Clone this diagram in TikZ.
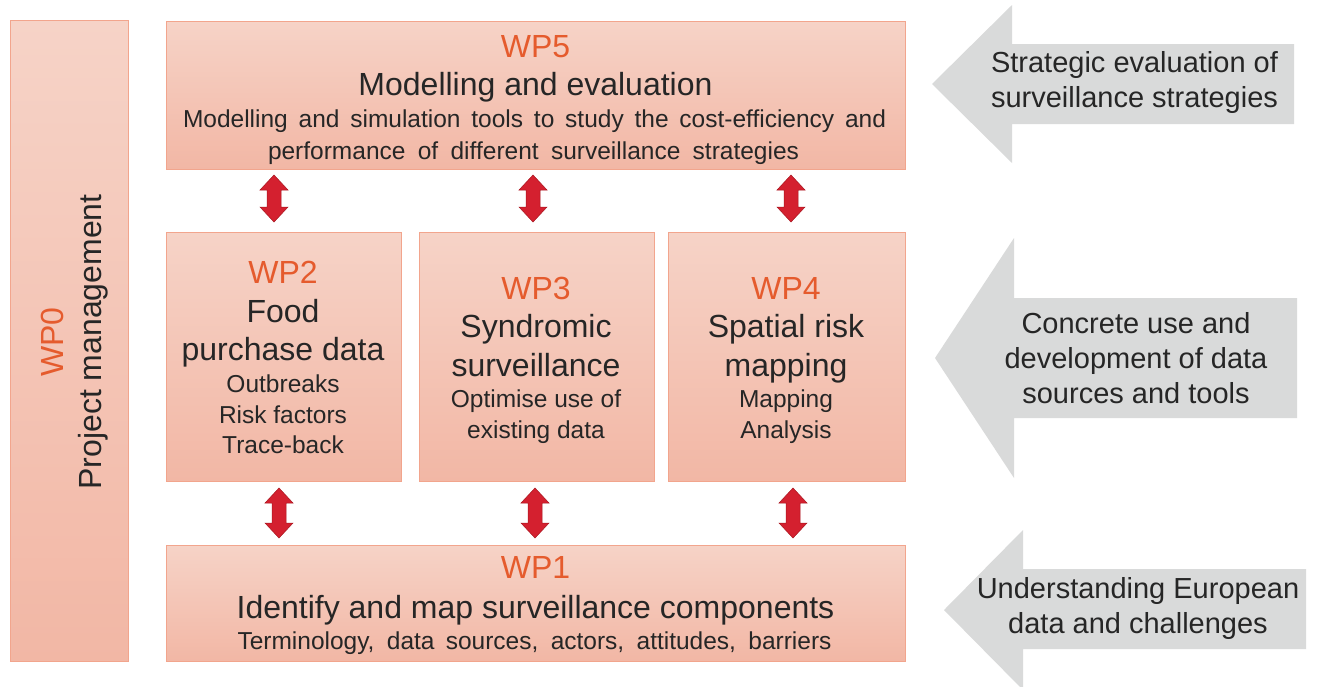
\documentclass[tikz,border=0pt]{standalone}
\usepackage{fontspec}
\setmainfont{Liberation Sans}
\usetikzlibrary{calc}
\definecolor{boxtop}{HTML}{F6D3C7}
\definecolor{boxbot}{HTML}{F2B7A5}
\definecolor{boxline}{HTML}{F2A58D}
\definecolor{wpcol}{HTML}{E55B2D}
\definecolor{textdark}{HTML}{262626}
\definecolor{redfill}{HTML}{D4202F}
\definecolor{reddark}{HTML}{A8161F}
\definecolor{grayfill}{HTML}{D9DADA}
\newcommand\fBig{\fontsize{32}{38}\selectfont}
\newcommand\fSmall{\fontsize{24.5}{31}\selectfont}
\newcommand\fArrow{\fontsize{29}{35}\selectfont}
\newcommand\redDblArrow[3]{%
  \filldraw[redarrow] (#1,#2) -- (#1+14,#2+15) -- (#1+7,#2+15) -- (#1+7,#3-15) -- (#1+14,#3-15)
    -- (#1,#3) -- (#1-14,#3-15) -- (#1-7,#3-15) -- (#1-7,#2+15) -- (#1-14,#2+15) -- cycle;}
\tikzset{
  wpbox/.style={draw=boxline, line width=0.8pt, top color=boxtop, bottom color=boxbot,
    inner sep=0pt, outer sep=0pt},
  wplabel/.style={text=wpcol, font=\fBig, inner sep=0pt, anchor=base},
  bigtxt/.style={text=textdark, font=\fBig, inner sep=0pt, anchor=base},
  smalltxt/.style={text=textdark, font=\fSmall, inner sep=0pt, anchor=base},
  arrowtxt/.style={text=textdark, font=\fArrow, inner sep=0pt, anchor=base},
  redarrow/.style={fill=redfill, draw=reddark, line width=0.5pt, line join=miter},
  grayarrow/.style={fill=grayfill, draw=none},
}
\begin{document}
\begin{tikzpicture}[x=1pt, y=-1pt]
\useasboundingbox (0,0) rectangle (1317,686);
\begin{scope}
\clip (0,0) rectangle (1317,686);
% gray side arrows
\fill[grayarrow] (932,84) -- (1012,5) -- (1012,44) -- (1294,44) -- (1294,124) -- (1012,124) -- (1012,163) -- cycle;
\fill[grayarrow] (935,358) -- (1014,238) -- (1014,298) -- (1297,298) -- (1297,418) -- (1014,418) -- (1014,478) -- cycle;
\fill[grayarrow] (944,610) -- (1023,530) -- (1023,569) -- (1306,569) -- (1306,649) -- (1023,649) -- (1023,690) -- cycle;
\end{scope}

% boxes
\node[wpbox, minimum width=118pt, minimum height=641pt] (wp0) at (69,340.5) {};
\node[wpbox, minimum width=739pt, minimum height=148pt] (wp5) at (535.5,95) {};
\node[wpbox, minimum width=235pt, minimum height=249pt] (wp2) at (283.5,356.5) {};
\node[wpbox, minimum width=235pt, minimum height=249pt] (wp3) at (536.5,356.5) {};
\node[wpbox, minimum width=237pt, minimum height=249pt] (wp4) at (786.5,356.5) {};
\node[wpbox, minimum width=739pt, minimum height=116pt] (wp1) at (535.5,603) {};

% WP0
\node[wplabel, rotate=90] (t0a) at (63,342) {WP0};
\node[bigtxt, rotate=90] (t0b) at (101,342) {Project management};

% WP5
\node[wplabel] (t5a) at (535.5,57) {WP5};
\node[bigtxt] (t5b) at (535.5,95) {Modelling and evaluation};
\node[smalltxt] (t5c) at (534.5,127) {\makebox[703pt][s]{Modelling and simulation tools to study the cost-efficiency and}};
\node[smalltxt] (t5d) at (533.5,159) {\makebox[531pt][s]{performance of different surveillance strategies}};

% WP2
\node[wplabel] (t2a) at (283,283) {WP2};
\node[bigtxt] (t2b) at (283,322) {Food};
\node[bigtxt] (t2c) at (283,360) {purchase data};
\node[smalltxt] (t2d) at (283,392) {Outbreaks};
\node[smalltxt] (t2e) at (283,423) {Risk factors};
\node[smalltxt] (t2f) at (283,453) {Trace-back};

% WP3
\node[wplabel] (t3a) at (536,299) {WP3};
\node[bigtxt] (t3b) at (536,337) {Syndromic};
\node[bigtxt] (t3c) at (536,376) {surveillance};
\node[smalltxt] (t3d) at (536,407) {Optimise use of};
\node[smalltxt] (t3e) at (536,438) {existing data};

% WP4
\node[wplabel] (t4a) at (786,299) {WP4};
\node[bigtxt] (t4b) at (786,337) {Spatial risk};
\node[bigtxt] (t4c) at (786,376) {mapping};
\node[smalltxt] (t4d) at (786,407) {Mapping};
\node[smalltxt] (t4e) at (786,438) {Analysis};

% WP1
\node[wplabel] (t1a) at (535.5,578) {WP1};
\node[bigtxt] (t1b) at (535.5,618) {Identify and map surveillance components};
\node[smalltxt] (t1c) at (534.5,649) {\makebox[594pt][s]{Terminology, data sources, actors, attitudes, barriers}};

% side arrow texts
\node[arrowtxt] (sa1) at (1134.5,72) {Strategic evaluation of};
\node[arrowtxt] (sa2) at (1134.5,107) {surveillance strategies};
\node[arrowtxt] (sb1) at (1136,333) {Concrete use and};
\node[arrowtxt] (sb2) at (1136,368) {development of data};
\node[arrowtxt] (sb3) at (1136,403) {sources and tools};
\node[arrowtxt] (sc1) at (1138,598) {Understanding European};
\node[arrowtxt] (sc2) at (1138,633) {data and challenges};

% red double arrows
\redDblArrow{274}{175}{222}
\redDblArrow{533}{175}{222}
\redDblArrow{791}{175}{222}
\redDblArrow{279}{488}{538}
\redDblArrow{535}{488}{538}
\redDblArrow{793}{488}{538}
\end{tikzpicture}
\end{document}
